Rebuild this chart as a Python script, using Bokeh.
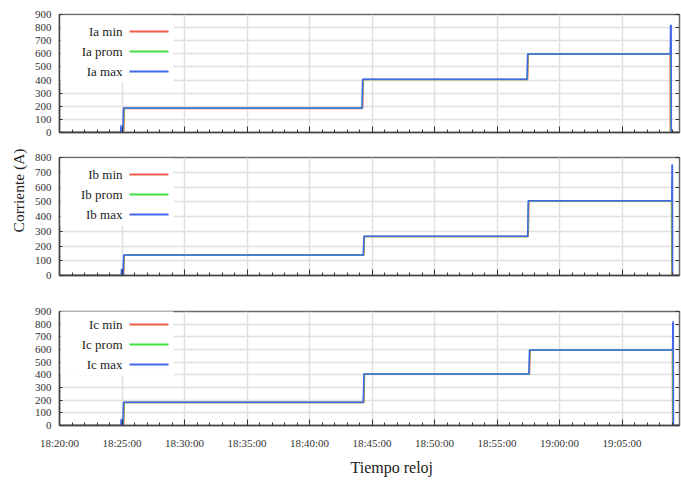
import pandas as pd
from bokeh.plotting import figure
from bokeh.models import (Range1d, LinearAxis, SingleIntervalTicker, DatetimeTickFormatter,
                          BoxAnnotation, Label, ColumnDataSource, Title)
from bokeh.layouts import column
from bokeh.embed import file_html
from bokeh.resources import INLINE

# ---------------- data ----------------
x_start = "18:20:00"
x_end = "19:09:36"

# Panel A
ta_min = ["18:20:00", "18:25:08", "18:25:11", "18:44:15", "18:44:18", "18:57:27", "18:57:30", "19:08:51", "19:08:52", "19:09:36"]
ia_min = [0, 0, 184, 184, 404, 404, 597, 597, 0, 0]
ta_prom = ["18:20:00", "18:25:06", "18:25:09", "18:44:13", "18:44:16", "18:57:25", "18:57:28", "19:08:52", "19:08:54", "19:08:55", "19:09:36"]
ia_prom = [0, 0, 185, 185, 405, 405, 598, 598, 680, 0, 0]
ta_max = ["18:20:00", "18:24:53", "18:24:55", "18:24:57", "18:25:04", "18:25:07", "18:44:12", "18:44:15", "18:57:24", "18:57:27", "19:08:52", "19:08:53", "19:08:56", "19:08:57", "19:09:36"]
ia_max = [0, 0, 55, 0, 0, 186, 186, 406, 406, 599, 599, 818, 818, 0, 0]

# Panel B
tb_min = ["18:20:00", "18:25:08", "18:25:11", "18:44:21", "18:44:24", "18:57:30", "18:57:33", "19:08:58", "19:08:59", "19:09:36"]
ib_min = [0, 0, 137, 137, 264, 264, 504, 504, 0, 0]
tb_prom = ["18:20:00", "18:25:06", "18:25:09", "18:44:19", "18:44:22", "18:57:28", "18:57:31", "19:08:59", "19:09:00", "19:09:01", "19:09:36"]
ib_prom = [0, 0, 138, 138, 265, 265, 505, 505, 640, 0, 0]
tb_max = ["18:20:00", "18:24:56", "18:24:58", "18:25:00", "18:25:05", "18:25:08", "18:44:18", "18:44:21", "18:57:27", "18:57:30", "19:08:59", "19:09:00", "19:09:02", "19:09:03", "19:09:36"]
ib_max = [0, 0, 45, 0, 0, 139, 139, 266, 266, 506, 506, 750, 750, 0, 0]

# Panel C
tc_min = ["18:20:00", "18:25:08", "18:25:11", "18:44:21", "18:44:24", "18:57:36", "18:57:39", "19:09:02", "19:09:03", "19:09:36"]
ic_min = [0, 0, 181, 181, 404, 404, 594, 594, 0, 0]
tc_prom = ["18:20:00", "18:25:06", "18:25:09", "18:44:19", "18:44:22", "18:57:34", "18:57:37", "19:09:03", "19:09:04", "19:09:05", "19:09:36"]
ic_prom = [0, 0, 182, 182, 405, 405, 595, 595, 690, 0, 0]
tc_max = ["18:20:00", "18:24:54", "18:24:56", "18:24:58", "18:25:04", "18:25:07", "18:44:18", "18:44:21", "18:57:33", "18:57:36", "19:09:03", "19:09:04", "19:09:06", "19:09:07", "19:09:36"]
ic_max = [0, 0, 50, 0, 0, 183, 183, 406, 406, 596, 596, 818, 818, 0, 0]

names_a = ["Ia min", "Ia prom", "Ia max"]
names_b = ["Ib min", "Ib prom", "Ib max"]
names_c = ["Ic min", "Ic prom", "Ic max"]
y_max = [900, 800, 900]
y_label = "Corriente (A)"
x_label = "Tiempo  reloj"

# ---------------- styling ----------------
COLORS = ["#f25a4a", "#3fe03f", "#4466ee"]
FONT = "Liberation Serif"
DAY = "2020-01-01 "


def ts(lst):
    return pd.to_datetime([DAY + t for t in lst])


fmt = "%H:%M:%S"
dt_formatter = DatetimeTickFormatter(seconds=fmt, minsec=fmt, minutes=fmt, hourmin=fmt, hours=fmt)


def panel(series, names, ymax, height, btop, bbottom, show_x):
    p = figure(width=681, height=height, x_axis_type="datetime",
               x_range=Range1d(ts([x_start])[0], ts([x_end])[0]),
               y_range=Range1d(0, ymax),
               output_backend="svg", toolbar_location=None,
               min_border=0, min_border_left=59, min_border_right=2,
               min_border_top=btop, min_border_bottom=bbottom)
    p.background_fill_color = "white"
    p.border_fill_color = "white"
    p.outline_line_color = "#6a6a6a"
    p.outline_line_width = 1.5

    xt = SingleIntervalTicker(interval=300000, num_minor_ticks=5)
    p.xaxis.ticker = xt
    p.xaxis.formatter = dt_formatter
    p.xgrid.ticker = xt
    yt = SingleIntervalTicker(interval=100, num_minor_ticks=0)
    p.yaxis.ticker = yt
    p.ygrid.ticker = yt

    for g in (p.xgrid, p.ygrid):
        g.grid_line_color = "#e0e0e0"
        g.grid_line_width = 1.5

    for ax in (p.xaxis, p.yaxis):
        ax.axis_line_color = "#444444"
        ax.axis_line_width = 1.5
        ax.major_tick_line_color = "#333333"
        ax.minor_tick_line_color = "#333333"
        ax.major_tick_out = 0
        ax.minor_tick_out = 0
        ax.major_label_text_font = FONT
        ax.major_label_text_font_size = "11px"
        ax.major_label_text_color = "#333333"
    p.xaxis.major_tick_in = 6
    p.xaxis.minor_tick_in = 3
    p.yaxis.major_tick_in = 3
    p.yaxis.minor_tick_line_color = None
    p.yaxis.major_label_standoff = 8
    if show_x:
        p.xaxis.major_label_standoff = 11
    else:
        p.xaxis.major_label_text_color = None
        p.xaxis.major_label_text_font_size = "0px"
        p.xaxis.major_label_standoff = 0

    rax = LinearAxis(ticker=yt, major_label_text_font_size="0px", major_label_text_color=None,
                     major_label_standoff=0,
                     major_tick_in=4, major_tick_out=0, axis_line_color=None,
                     minor_tick_line_color=None, major_tick_line_color="#333333")
    p.add_layout(rax, "right")

    for (t, v), c in zip(series, COLORS):
        src = ColumnDataSource(dict(x=ts(t), y=v))
        p.line("x", "y", source=src, line_color=c, line_width=1.5)

    # legend (label to the left of its line)
    fh = 118
    p.add_layout(BoxAnnotation(left=1, right=114, top=fh - 1, bottom=fh - 68,
                               left_units="screen", right_units="screen",
                               top_units="screen", bottom_units="screen",
                               fill_color="white", fill_alpha=1.0, line_color=None))
    for i, (nm, c) in enumerate(zip(names, COLORS)):
        yy = fh - 17 - 20 * i
        p.add_layout(Label(x=63, y=yy, x_units="screen", y_units="screen", text=nm,
                           text_align="right", text_baseline="middle",
                           text_font=FONT, text_font_size="13px", text_color="#222222"))
        p.add_layout(BoxAnnotation(left=70, right=109, top=yy + 1, bottom=yy - 1,
                                   left_units="screen", right_units="screen",
                                   top_units="screen", bottom_units="screen",
                                   fill_color=c, fill_alpha=1.0, line_color=None))
    return p


p1 = panel([(ta_min, ia_min), (ta_prom, ia_prom), (ta_max, ia_max)], names_a, y_max[0], 140, 14, 8, False)
p2 = panel([(tb_min, ib_min), (tb_prom, ib_prom), (tb_max, ib_max)], names_b, y_max[1], 150, 17, 15, False)
p3 = panel([(tc_min, ic_min), (tc_prom, ic_prom), (tc_max, ic_max)], names_c, y_max[2], 190, 21, 51, True)

p2.add_layout(Title(text=y_label, align="right", offset=-9,
                    text_font=FONT, text_font_size="15.5px", text_font_style="normal",
                    text_color="#222222"), "left")
p3.add_layout(Title(text=x_label, align="left", offset=291,
                    text_font=FONT, text_font_size="16px", text_font_style="normal",
                    text_color="#222222"), "below")

layout = column(p1, p2, p3, spacing=0)
open("out.html", "w").write(file_html(layout, INLINE))
